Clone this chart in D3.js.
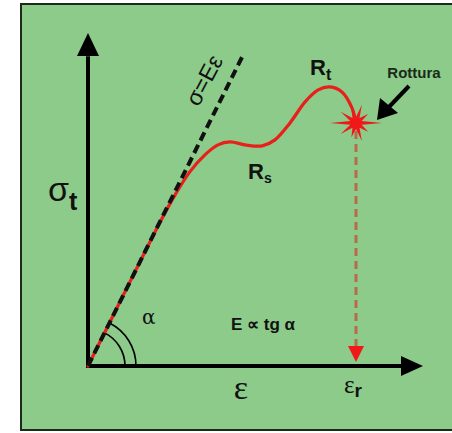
<!DOCTYPE html>
<html><head><meta charset="utf-8">
<script src="https://cdn.jsdelivr.net/npm/d3@7"></script>
<style>html,body{margin:0;padding:0;background:#fff;}</style>
</head><body>
<svg id="c" width="452" height="433"></svg>
<script>
// stress-strain curve (relative units, 0..100)
const curveStrain = [0, 11.0, 21.5, 26.0, 30.4, 34.9, 38.8, 42.4, 46.9, 52.0, 55.8, 60.3, 64.8, 68.7, 72.2, 75.8, 78.8, 80.0];
const curveStress = [0, 22.2, 43.2, 51.4, 58.3, 63.4, 66.4, 67.3, 66.4, 66.1, 67.9, 73.0, 79.3, 82.9, 83.8, 82.3, 77.5, 73.0];
const elasticStrain = [0, 46.3];
const elasticStress = [0, 93.4];
const ruptureStrain = 80.0;
const ruptureStress = 73.0;
const labels = ["σ=Eε", "Rₛ", "Rₜ", "Rottura", "E ∝ tg α"];

const svg = d3.select("#c");
const x = d3.scaleLinear().domain([0, 100]).range([88, 423]);
const y = d3.scaleLinear().domain([0, 100]).range([366, 33]);

// background panel
svg.append("rect").attr("x", 21).attr("y", 4).attr("width", 440).attr("height", 426)
  .attr("fill", "#8ccb89").attr("stroke", "#1c2a1c").attr("stroke-width", 2);

// axes
svg.append("line").attr("x1", x(0)).attr("y1", y(0)).attr("x2", x(0)).attr("y2", y(93))
  .attr("stroke", "#000").attr("stroke-width", 4);
svg.append("path").attr("d", `M${x(0)},${y(100)} L${x(0)-11},${y(100)+23} L${x(0)+11},${y(100)+23} Z`).attr("fill", "#000");
svg.append("line").attr("x1", x(0)-2).attr("y1", y(0)).attr("x2", x(94)).attr("y2", y(0))
  .attr("stroke", "#000").attr("stroke-width", 4);
svg.append("path").attr("d", `M${x(100)},${y(0)} L${x(100)-22},${y(0)-10} L${x(100)-22},${y(0)+10} Z`).attr("fill", "#000");

// angle arcs
const ang = Math.atan2(y(0) - y(elasticStress[1]), x(elasticStrain[1]) - x(0));
[37, 48].forEach(r => {
  svg.append("path")
    .attr("d", `M${x(0)+r},${y(0)} A${r},${r} 0 0 0 ${x(0)+r*Math.cos(ang)},${y(0)-r*Math.sin(ang)}`)
    .attr("fill", "none").attr("stroke", "#000").attr("stroke-width", 1.6);
});

// red curve
const pts = curveStrain.map((d, i) => [d, curveStress[i]]);
const line = d3.line().x(d => x(d[0])).y(d => y(d[1])).curve(d3.curveCatmullRom.alpha(0.5));
svg.append("path").datum(pts).attr("d", line).attr("fill", "none")
  .attr("stroke", "#e8201c").attr("stroke-width", 3.2).attr("stroke-linecap", "round");

// elastic dashed line
svg.append("line").attr("x1", x(elasticStrain[0])).attr("y1", y(elasticStress[0]))
  .attr("x2", x(elasticStrain[1])).attr("y2", y(elasticStress[1]))
  .attr("stroke", "#111").attr("stroke-width", 4).attr("stroke-dasharray", "9,5");

// rupture drop line
svg.append("line").attr("x1", x(ruptureStrain)).attr("y1", y(ruptureStress) + 8)
  .attr("x2", x(ruptureStrain)).attr("y2", y(0) - 18)
  .attr("stroke", "#b86a4a").attr("stroke-width", 3).attr("stroke-dasharray", "8,5");
svg.append("path").attr("d", `M${x(ruptureStrain)},${y(0)-4} L${x(ruptureStrain)-8},${y(0)-20} L${x(ruptureStrain)+8},${y(0)-20} Z`)
  .attr("fill", "#ee1a1a");

// star
const sx = x(ruptureStrain), sy = y(ruptureStress);
const starPts = [];
const n = 10;
for (let i = 0; i < n * 2; i++) {
  const a = Math.PI * i / n;
  const long = (i % 2 === 0);
  let r = long ? ((i % 10 === 0) ? 26 : (i % 4 === 0 ? 19 : 15)) : 6;
  starPts.push([sx + r * Math.cos(a), sy + r * Math.sin(a)]);
}
svg.append("path").attr("d", "M" + starPts.map(p => p.join(",")).join("L") + "Z").attr("fill", "#f01818");

// black arrow to star
svg.append("line").attr("x1", 409).attr("y1", 86).attr("x2", 388).attr("y2", 108)
  .attr("stroke", "#000").attr("stroke-width", 4);
svg.append("path").attr("d", "M377,120 L380,98 L398,113 Z").attr("fill", "#000");

// labels
const sans = "Liberation Sans, Arial, sans-serif";
svg.append("text").attr("transform", `translate(211,84) rotate(-62)`).attr("text-anchor", "middle")
  .attr("font-family", sans).attr("font-size", 23).attr("fill", "#111").text("σ=Eε");
svg.append("text").attr("x", 248).attr("y", 179).attr("font-family", sans).attr("font-weight", "bold")
  .attr("font-size", 22).attr("fill", "#111").text("R").append("tspan").attr("font-size", 14).attr("dy", 4).text("s");
svg.append("text").attr("x", 310).attr("y", 75).attr("font-family", sans).attr("font-weight", "bold")
  .attr("font-size", 22).attr("fill", "#111").text("R").append("tspan").attr("font-size", 16).attr("dy", 5).text("t");
svg.append("text").attr("x", 414).attr("y", 78).attr("text-anchor", "middle").attr("font-family", sans)
  .attr("font-weight", "bold").attr("font-size", 15).attr("fill", "#1a2a1a").text("Rottura");
svg.append("text").attr("x", 263).attr("y", 330).attr("text-anchor", "middle").attr("font-family", sans)
  .attr("font-weight", "bold").attr("font-size", 17).attr("fill", "#111").text("E ∝ tg α");
svg.append("text").attr("x", 142).attr("y", 324).attr("font-family", "DejaVu Serif, serif")
  .attr("font-size", 20).attr("fill", "#111").text("α");
svg.append("text").attr("x", 48).attr("y", 201).attr("font-family", sans)
  .attr("font-size", 34).attr("fill", "#111").text("σ").append("tspan").attr("font-weight", "bold").attr("font-size", 25).attr("dy", 9).text("t");
svg.append("text").attr("x", 241).attr("y", 399).attr("text-anchor", "middle").attr("font-family", "Liberation Serif, serif")
  .attr("font-size", 34).attr("fill", "#111").text("ε");
svg.append("text").attr("x", 344).attr("y", 393).attr("font-family", "Liberation Serif, serif")
  .attr("font-size", 25).attr("fill", "#111").text("ε").append("tspan").attr("font-family", sans).attr("font-weight", "bold").attr("font-size", 19).attr("dy", 4).text("r");
</script>
</body></html>
